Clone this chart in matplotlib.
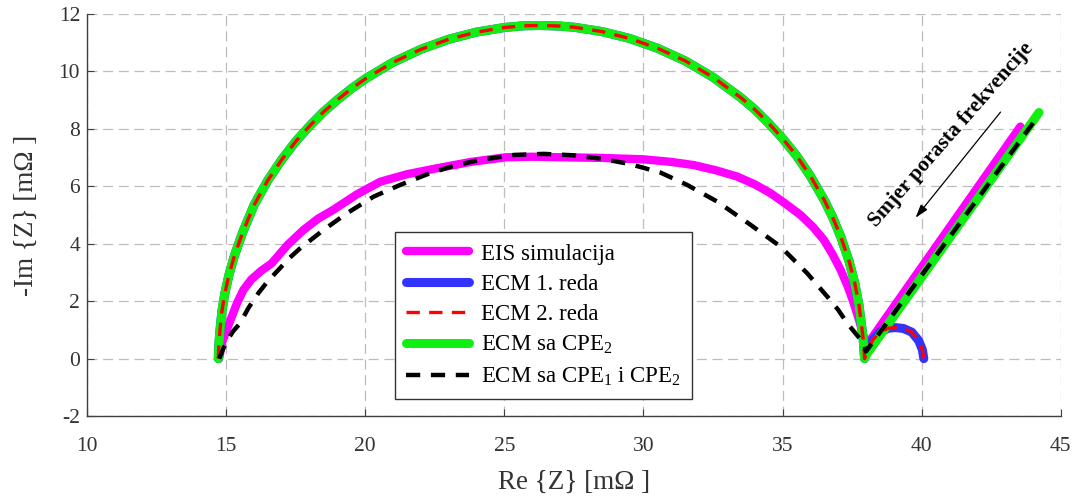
import matplotlib
matplotlib.use("Agg")
import matplotlib.pyplot as plt

plt.rcParams["font.family"] = ["Liberation Serif", "DejaVu Serif"]
plt.rcParams["mathtext.fontset"] = "custom"
plt.rcParams["mathtext.rm"] = "Liberation Serif"
plt.rcParams["mathtext.it"] = "Liberation Serif:italic"
plt.rcParams["axes.unicode_minus"] = False

# ---- data (Re in mOhm, -Im in mOhm) ----
# EIS simulation
eis_re = [14.75, 14.85, 15.0, 15.2, 15.4, 15.62, 15.9, 16.25, 16.64, 17.2, 17.78,
          18.3, 18.85, 19.7, 20.54, 21.5, 22.58, 23.8, 25.04, 26.0, 27.13, 28.5,
          30.01, 31.0, 31.81, 32.6, 33.37, 34.0, 34.57, 35.1, 35.65, 36.1, 36.49,
          36.8, 37.09, 37.35, 37.56, 37.75, 37.92, 37.98, 43.55]
eis_im = [0.0, 0.55, 0.95, 1.45, 1.95, 2.39, 2.75, 3.05, 3.32, 3.95, 4.48,
          4.87, 5.18, 5.72, 6.16, 6.42, 6.63, 6.85, 7.01, 7.03, 7.01, 6.99,
          6.94, 6.85, 6.74, 6.56, 6.34, 6.07, 5.76, 5.40, 5.00, 4.58, 4.13,
          3.63, 3.09, 2.50, 1.93, 1.35, 0.77, 0.40, 8.08]

# big arc shared by ECM 1./2. reda and ECM sa CPE2
arc_re = [14.72, 14.74, 14.78, 14.85, 14.95, 15.1, 15.3, 15.6, 16.0, 16.5, 17.0,
          17.5, 18.0, 18.5, 19.0, 19.5, 20.0, 21.0, 22.0, 23.0, 24.0, 25.0, 25.7,
          26.3, 27.0, 27.5, 28.5, 29.5, 30.5, 31.5, 32.5, 33.5, 34.0, 34.5, 35.0,
          35.5, 36.0, 36.5, 36.8, 37.1, 37.4, 37.6, 37.75, 37.85, 37.9, 37.95]
arc_im = [0.0, 0.5, 1.0, 1.66, 2.25, 2.91, 3.59, 4.41, 5.34, 6.21, 6.93,
          7.56, 8.10, 8.59, 9.01, 9.40, 9.74, 10.32, 10.77, 11.12, 11.37, 11.53, 11.59,
          11.60, 11.58, 11.54, 11.39, 11.15, 10.81, 10.37, 9.80, 9.09, 8.68, 8.20, 7.67,
          7.07, 6.36, 5.52, 4.93, 4.23, 3.37, 2.62, 1.86, 1.08, 0.68, 0.0]

# small high-frequency arc (ECM 1. i 2. reda)
small_re = [37.95, 38.02, 38.1, 38.25, 38.5, 38.8, 39.07, 39.35, 39.65, 39.9, 40.03, 40.08]
small_im = [0.0, 0.22, 0.38, 0.66, 0.93, 1.06, 1.08, 1.05, 0.92, 0.62, 0.30, 0.0]

# inductive tail of ECM sa CPE2
tail_re = [37.95, 44.22]
tail_im = [0.05, 8.57]

# ECM sa CPE1 i CPE2
cpe12_re = [14.75, 14.9, 15.05, 15.25, 15.5, 15.8, 16.16, 16.5, 16.88, 17.25, 17.66,
            18.5, 19.34, 20.3, 21.26, 22.34, 23.2, 24.14, 25.33, 26.41, 27.49, 28.57,
            29.53, 30.61, 31.57, 32.65, 33.85, 34.93, 35.89, 36.61, 37.0, 37.33,
            37.65, 37.92, 38.0, 44.22]
cpe12_im = [0.0, 0.35, 0.65, 0.95, 1.23, 1.76, 2.28, 2.70, 3.09, 3.48, 3.84,
            4.48, 5.06, 5.64, 6.05, 6.46, 6.72, 6.92, 7.09, 7.13, 7.08, 6.95,
            6.77, 6.48, 6.05, 5.47, 4.66, 3.90, 2.97, 2.16, 1.70, 1.23,
            0.85, 0.54, 0.25, 8.49]

labels = ["EIS simulacija", "ECM 1. reda", "ECM 2. reda",
          r"ECM sa CPE$_\mathregular{2}$",
          r"ECM sa CPE$_\mathregular{1}$ i CPE$_\mathregular{2}$"]

fig = plt.figure(figsize=(10.85, 4.98), dpi=100)
ax = fig.add_axes([0.0802, 0.1645, 0.8974, 0.8074])

ax.plot(eis_re, eis_im, color="#ff00ff", lw=6.0, solid_capstyle="round",
        solid_joinstyle="round", label=labels[0], zorder=2)
ax.plot(arc_re + small_re, arc_im + small_im, color="#3333ff", lw=6.5,
        solid_capstyle="round", solid_joinstyle="round", label=labels[1], zorder=3)
ax.plot(arc_re + tail_re, arc_im + tail_im, color="#11ee11", lw=6.5,
        solid_capstyle="round", solid_joinstyle="round", label=labels[3], zorder=4)
ax.plot(arc_re + small_re, arc_im + small_im, color="#ff0000", lw=2.4,
        dashes=(4, 2.8), label=labels[2], zorder=5)
ax.plot(cpe12_re, cpe12_im, color="black", lw=3.2, dashes=(3.2, 2.4),
        label=labels[4], zorder=6)

ax.set_xlim(10, 45)
ax.set_ylim(-2, 12)
ax.set_xticks(range(10, 46, 5))
ax.set_yticks(range(-2, 13, 2))
ax.grid(True, color="#bdbdbd", lw=0.9, linestyle=(0, (8, 4.5)))
ax.set_axisbelow(True)
for side in ["top", "right"]:
    ax.spines[side].set_visible(False)
for side in ["left", "bottom"]:
    ax.spines[side].set_color("#404040")
    ax.spines[side].set_linewidth(1.0)
ax.tick_params(axis="both", direction="in", length=5, color="#404040",
               labelsize=15.5, labelcolor="#333333")
ax.tick_params(axis="x", pad=15)
ax.tick_params(axis="y", pad=5)

ax.set_xlabel("Re {Z} [m\u03a9 ]", fontsize=19.5, color="#333333", labelpad=10)
ax.set_ylabel("-Im {Z} [m\u03a9 ]", fontsize=19.5, color="#333333", labelpad=14)

# direction annotation
ax.annotate("", xy=(39.72, 4.83), xytext=(42.9, 8.66),
            arrowprops=dict(arrowstyle="-|>,head_length=0.8,head_width=0.25",
                            color="black", lw=0.9))
ax.text(41.05, 7.8, "Smjer porasta frekvencije", rotation=48.7, fontsize=15.5,
        fontweight="bold", ha="center", va="center", rotation_mode="anchor")

handles, labs = ax.get_legend_handles_labels()
order = [labs.index(l) for l in labels]
leg = ax.legend([handles[i] for i in order], [labs[i] for i in order],
                loc="upper left", bbox_to_anchor=(395 / 1085, 1 - 232 / 498),
                bbox_transform=fig.transFigure, borderaxespad=0,
                fontsize=16.5, handlelength=2.75, handletextpad=0.5,
                labelspacing=0.4, borderpad=0.5, fancybox=False,
                framealpha=1, edgecolor="#333333")
leg.get_frame().set_linewidth(1.0)
leg.set_zorder(10)

fig.savefig("out.png", dpi=100)
